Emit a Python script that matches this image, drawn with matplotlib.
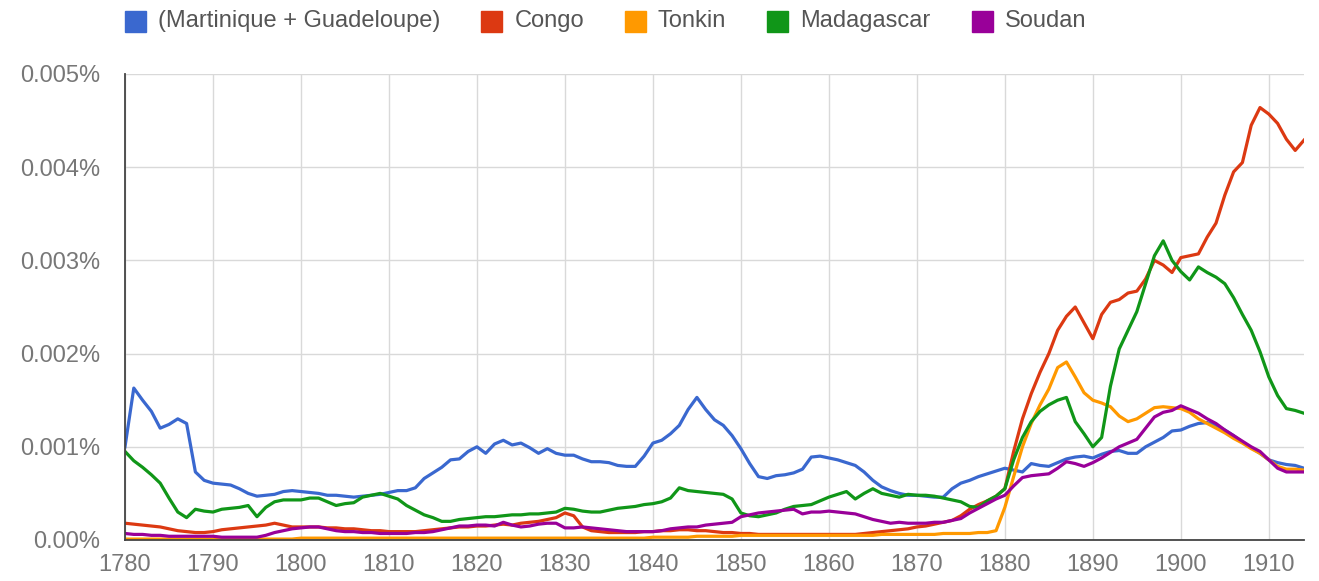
import numpy as np
import matplotlib
matplotlib.use("Agg")
import matplotlib.pyplot as plt
from matplotlib.patches import Rectangle

plt.rcParams["font.family"] = ["Liberation Sans", "DejaVu Sans"]

# Google Ngram style chart, values in thousandths of a percent (0.001 %)
years = list(range(1780, 1915))

series_names = ["(Martinique + Guadeloupe)", "Congo", "Tonkin", "Madagascar", "Soudan"]
series_colors = ["#3a68cf", "#dc3912", "#ff9900", "#109618", "#990099"]

martinique_guadeloupe = [
    1.00, 1.63, 1.50, 1.38, 1.20, 1.24, 1.30, 1.25, 0.73, 0.64,
    0.61, 0.60, 0.59, 0.55, 0.50, 0.47, 0.48, 0.49, 0.52, 0.53,
    0.52, 0.51, 0.50, 0.48, 0.48, 0.47, 0.46, 0.47, 0.48, 0.49,
    0.51, 0.53, 0.53, 0.56, 0.66, 0.72, 0.78, 0.86, 0.87, 0.95,
    1.00, 0.93, 1.03, 1.07, 1.02, 1.04, 0.99, 0.93, 0.98, 0.93,
    0.91, 0.91, 0.87, 0.84, 0.84, 0.83, 0.80, 0.79, 0.79, 0.90,
    1.04, 1.07, 1.14, 1.23, 1.40, 1.53, 1.40, 1.29, 1.23, 1.12,
    0.98, 0.82, 0.68, 0.66, 0.69, 0.70, 0.72, 0.76, 0.89, 0.90,
    0.88, 0.86, 0.83, 0.80, 0.73, 0.64, 0.57, 0.53, 0.50, 0.48,
    0.48, 0.47, 0.46, 0.46, 0.55, 0.61, 0.64, 0.68, 0.71, 0.74,
    0.77, 0.75, 0.73, 0.82, 0.80, 0.79, 0.83, 0.87, 0.89, 0.90,
    0.88, 0.92, 0.95, 0.96, 0.93, 0.93, 1.00, 1.05, 1.10, 1.17,
    1.18, 1.22, 1.25, 1.26, 1.23, 1.18, 1.12, 1.05, 0.99, 0.93,
    0.86, 0.83, 0.81, 0.80, 0.77,
]

congo = [
    0.18, 0.17, 0.16, 0.15, 0.14, 0.12, 0.10, 0.09, 0.08, 0.08,
    0.09, 0.11, 0.12, 0.13, 0.14, 0.15, 0.16, 0.18, 0.16, 0.14,
    0.14, 0.14, 0.14, 0.13, 0.13, 0.12, 0.12, 0.11, 0.10, 0.10,
    0.09, 0.09, 0.09, 0.09, 0.10, 0.11, 0.12, 0.13, 0.14, 0.14,
    0.15, 0.15, 0.16, 0.17, 0.16, 0.18, 0.19, 0.20, 0.22, 0.24,
    0.29, 0.26, 0.14, 0.10, 0.09, 0.08, 0.08, 0.08, 0.08, 0.09,
    0.09, 0.10, 0.10, 0.11, 0.11, 0.10, 0.10, 0.09, 0.08, 0.08,
    0.07, 0.07, 0.06, 0.06, 0.06, 0.06, 0.06, 0.06, 0.06, 0.06,
    0.06, 0.06, 0.06, 0.06, 0.07, 0.08, 0.09, 0.10, 0.11, 0.12,
    0.14, 0.15, 0.17, 0.19, 0.21, 0.26, 0.33, 0.38, 0.42, 0.47,
    0.55, 0.95, 1.30, 1.57, 1.80, 2.00, 2.25, 2.40, 2.50, 2.33,
    2.16, 2.42, 2.55, 2.58, 2.65, 2.67, 2.80, 3.00, 2.95, 2.87,
    3.03, 3.05, 3.07, 3.25, 3.40, 3.70, 3.95, 4.05, 4.45, 4.64,
    4.57, 4.47, 4.30, 4.18, 4.29,
]

tonkin = [
    0.01, 0.01, 0.01, 0.01, 0.01, 0.01, 0.01, 0.01, 0.01, 0.01,
    0.01, 0.01, 0.01, 0.01, 0.01, 0.01, 0.01, 0.01, 0.01, 0.01,
    0.02, 0.02, 0.02, 0.02, 0.02, 0.02, 0.02, 0.02, 0.02, 0.02,
    0.02, 0.02, 0.02, 0.02, 0.02, 0.02, 0.02, 0.02, 0.02, 0.02,
    0.02, 0.02, 0.02, 0.02, 0.02, 0.02, 0.02, 0.02, 0.02, 0.02,
    0.02, 0.02, 0.02, 0.02, 0.02, 0.02, 0.02, 0.02, 0.02, 0.02,
    0.03, 0.03, 0.03, 0.03, 0.03, 0.04, 0.04, 0.04, 0.04, 0.04,
    0.05, 0.05, 0.05, 0.05, 0.05, 0.05, 0.05, 0.05, 0.05, 0.05,
    0.05, 0.05, 0.05, 0.05, 0.05, 0.05, 0.06, 0.06, 0.06, 0.06,
    0.06, 0.06, 0.06, 0.07, 0.07, 0.07, 0.07, 0.08, 0.08, 0.10,
    0.35, 0.68, 1.00, 1.25, 1.45, 1.62, 1.85, 1.91, 1.75, 1.58,
    1.50, 1.47, 1.43, 1.33, 1.27, 1.30, 1.36, 1.42, 1.43, 1.42,
    1.41, 1.37, 1.30, 1.25, 1.20, 1.15, 1.09, 1.04, 0.98, 0.93,
    0.86, 0.79, 0.76, 0.76, 0.75,
]

madagascar = [
    0.95, 0.85, 0.78, 0.70, 0.61, 0.45, 0.30, 0.24, 0.33, 0.31,
    0.30, 0.33, 0.34, 0.35, 0.37, 0.25, 0.35, 0.41, 0.43, 0.43,
    0.43, 0.45, 0.45, 0.41, 0.37, 0.39, 0.40, 0.46, 0.48, 0.50,
    0.47, 0.44, 0.37, 0.32, 0.27, 0.24, 0.20, 0.20, 0.22, 0.23,
    0.24, 0.25, 0.25, 0.26, 0.27, 0.27, 0.28, 0.28, 0.29, 0.30,
    0.34, 0.33, 0.31, 0.30, 0.30, 0.32, 0.34, 0.35, 0.36, 0.38,
    0.39, 0.41, 0.45, 0.56, 0.53, 0.52, 0.51, 0.50, 0.49, 0.44,
    0.29, 0.26, 0.25, 0.27, 0.29, 0.33, 0.36, 0.37, 0.38, 0.42,
    0.46, 0.49, 0.52, 0.44, 0.50, 0.55, 0.50, 0.48, 0.46, 0.49,
    0.48, 0.48, 0.47, 0.45, 0.43, 0.41, 0.36, 0.35, 0.42, 0.47,
    0.55, 0.86, 1.10, 1.27, 1.38, 1.45, 1.50, 1.53, 1.27, 1.14,
    1.00, 1.10, 1.65, 2.05, 2.25, 2.45, 2.75, 3.05, 3.21, 3.00,
    2.88, 2.79, 2.93, 2.87, 2.82, 2.75, 2.60, 2.42, 2.25, 2.02,
    1.75, 1.55, 1.41, 1.39, 1.36,
]

soudan = [
    0.07, 0.06, 0.06, 0.05, 0.05, 0.04, 0.04, 0.04, 0.04, 0.04,
    0.04, 0.03, 0.03, 0.03, 0.03, 0.03, 0.05, 0.08, 0.10, 0.12,
    0.13, 0.14, 0.14, 0.12, 0.10, 0.09, 0.09, 0.08, 0.08, 0.07,
    0.07, 0.07, 0.07, 0.08, 0.08, 0.09, 0.11, 0.13, 0.15, 0.15,
    0.16, 0.16, 0.15, 0.19, 0.16, 0.14, 0.15, 0.17, 0.18, 0.18,
    0.13, 0.13, 0.14, 0.13, 0.12, 0.11, 0.10, 0.09, 0.09, 0.09,
    0.09, 0.10, 0.12, 0.13, 0.14, 0.14, 0.16, 0.17, 0.18, 0.19,
    0.25, 0.27, 0.29, 0.30, 0.31, 0.32, 0.33, 0.28, 0.30, 0.30,
    0.31, 0.30, 0.29, 0.28, 0.25, 0.22, 0.20, 0.18, 0.19, 0.18,
    0.18, 0.18, 0.19, 0.19, 0.21, 0.23, 0.29, 0.34, 0.39, 0.44,
    0.48, 0.58, 0.67, 0.69, 0.70, 0.71, 0.77, 0.84, 0.82, 0.79,
    0.83, 0.88, 0.94, 1.00, 1.04, 1.08, 1.20, 1.32, 1.37, 1.39,
    1.44, 1.40, 1.36, 1.30, 1.25, 1.18, 1.12, 1.06, 1.00, 0.95,
    0.86, 0.77, 0.73, 0.73, 0.73,
]

x_ticks = list(range(1780, 1911, 10))
y_ticks = [0.0, 0.001, 0.002, 0.003, 0.004, 0.005]
y_tick_labels = ["0.00%", "0.001%", "0.002%", "0.003%", "0.004%", "0.005%"]

all_series = [martinique_guadeloupe, congo, tonkin, madagascar, soudan]

W, H = 1319, 581
fig = plt.figure(figsize=(W / 100, H / 100), dpi=100)
ax = fig.add_axes([125 / W, 41 / H, 1179 / W, 466 / H])

for values, name, color in zip(all_series, series_names, series_colors):
    ax.plot(years, np.array(values) / 1000, color=color, lw=2.3,
            label=name, solid_joinstyle="round")

ax.set_xlim(1780, 1914)
ax.set_ylim(0, 0.005)
ax.set_xticks(x_ticks)
ax.set_yticks(y_ticks)
ax.set_yticklabels(y_tick_labels)
ax.grid(True, color="#d9d9d9", lw=1.0)
ax.set_axisbelow(True)
ax.tick_params(length=0, labelsize=17, colors="#777777")
ax.tick_params(axis="y", pad=18)
ax.tick_params(axis="x", pad=10)
for side in ["top", "right"]:
    ax.spines[side].set_visible(False)
for side in ["left", "bottom"]:
    ax.spines[side].set_color("#444444")
    ax.spines[side].set_linewidth(1.3)

# legend across the top, laid out from the measured text widths
renderer = fig.canvas.get_renderer()
x = 125
box = 21
for name, color in zip(series_names, series_colors):
    fig.patches.append(Rectangle((x / W, 1 - 32 / H), box / W, box / H,
                                 transform=fig.transFigure, color=color))
    t = fig.text((x + box + 12) / W, 1 - 21 / H, name, fontsize=17,
                 color="#555555", va="center", ha="left")
    w = t.get_window_extent(renderer).width
    x = x + box + 12 + w + 41

fig.savefig("out.png", dpi=100)
